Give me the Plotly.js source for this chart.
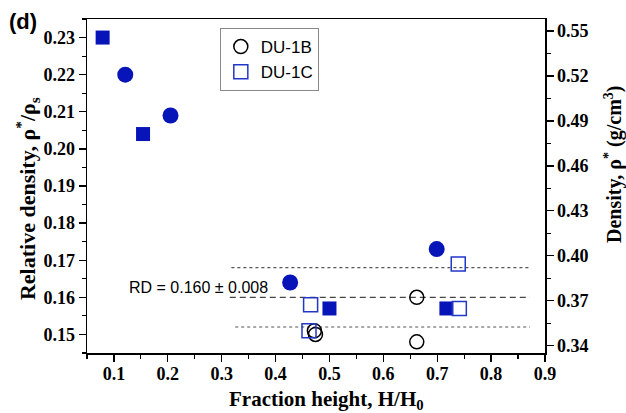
<!DOCTYPE html>
<html>
<head>
<meta charset="utf-8">
<script src="https://cdn.plot.ly/plotly-3.0.1.min.js"></script>
<style>html,body{margin:0;padding:0;background:#fff;}#chart{width:626px;height:413px;}</style>
</head>
<body>
<div id="chart"></div>
<script>
// Data
const du1bX = [0.662, 0.662, 0.472, 0.474];
const du1bY = [0.160, 0.148, 0.151, 0.150];
const du1cX = [0.739, 0.741, 0.465, 0.462];
const du1cY = [0.169, 0.157, 0.158, 0.151];
const filledCircleX = [0.121, 0.205, 0.427, 0.699];
const filledCircleY = [0.220, 0.209, 0.164, 0.173];
const filledSquareX = [0.079, 0.154, 0.500, 0.717];
const filledSquareY = [0.230, 0.204, 0.157, 0.157];
const rdMean = 0.160;
const rdUpper = 0.168;
const rdLower = 0.152;
const meanLineX = [0.315, 0.872];
const upperLineX = [0.318, 0.872];
const lowerLineX = [0.325, 0.872];
const rdLabel = 'RD = 0.160 ± 0.008';
const xTitle = 'Fraction height, H/H<sub>0</sub>';
const yTitle = 'Relative density, ρ<sup>*</sup>/ρ<sub>s</sub>';
const y2Title = 'Density, ρ<sup>*</sup> (g/cm<sup>3</sup>)';
const panelLabel = '(d)';

const blueFill = '#0714b8';
const blueLine = '#2236c8';
const serif = '"Liberation Serif", "Times New Roman", serif';
const sans = '"Liberation Sans", Arial, sans-serif';

const traces = [
  {x: upperLineX, y: [rdUpper, rdUpper], mode: 'lines', line: {color: '#555', width: 1.2, dash: 'dot'}, showlegend: false, hoverinfo: 'skip'},
  {x: meanLineX, y: [rdMean, rdMean], mode: 'lines', line: {color: '#444', width: 1.2, dash: '6px,4px'}, showlegend: false, hoverinfo: 'skip'},
  {x: lowerLineX, y: [rdLower, rdLower], mode: 'lines', line: {color: '#555', width: 1.2, dash: 'dot'}, showlegend: false, hoverinfo: 'skip'},
  {x: filledCircleX, y: filledCircleY, mode: 'markers', marker: {symbol: 'circle', size: 16, color: blueFill, line: {width: 0}}, showlegend: false},
  {x: filledSquareX, y: filledSquareY, mode: 'markers', marker: {symbol: 'square', size: 14, color: blueFill, line: {width: 0}}, showlegend: false},
  {x: du1bX, y: du1bY, mode: 'markers', name: 'DU-1B', marker: {symbol: 'circle-open', size: 14, color: '#000', line: {width: 1.5, color: '#000'}}},
  {x: du1cX, y: du1cY, mode: 'markers', name: 'DU-1C', marker: {symbol: 'square-open', size: 14, color: blueLine, line: {width: 1.5, color: blueLine}}},
  {x: [null], y: [null], yaxis: 'y2', mode: 'markers', showlegend: false, hoverinfo: 'skip'}
];

const tickFont = {family: serif, size: 18, color: '#000', weight: 'bold'};
const titleFont = {family: serif, size: 22, color: '#000', weight: 'bold'};

const layout = {
  width: 626, height: 413,
  margin: {l: 87, r: 81, t: 19, b: 60},
  paper_bgcolor: '#fff', plot_bgcolor: '#fff',
  showlegend: true,
  legend: {x: 0.29, y: 0.973, xanchor: 'left', yanchor: 'top', bordercolor: '#888', borderwidth: 1,
           font: {family: sans, size: 17, color: '#000'}, bgcolor: '#fff', tracegroupgap: 0, itemwidth: 30},
  xaxis: {
    range: [0.05, 0.9], tick0: 0.1, dtick: 0.1, tickformat: '.1f',
    showgrid: false, zeroline: false, showline: true, linecolor: '#000', linewidth: 1.5, mirror: true,
    ticks: 'outside', ticklen: 7, tickwidth: 1.3, tickcolor: '#000', ticklabelstandoff: -3,
    minor: {dtick: 0.05, tick0: 0.05, ticks: 'outside', ticklen: 4, tickwidth: 1.2, tickcolor: '#000'},
    tickfont: tickFont
  },
  yaxis: {
    range: [0.145, 0.235], tick0: 0.15, dtick: 0.01, tickformat: '.2f',
    showgrid: false, zeroline: false, showline: true, linecolor: '#000', linewidth: 1.5,
    ticks: 'outside', ticklen: 7, tickwidth: 1.3, tickcolor: '#000',
    minor: {dtick: 0.005, tick0: 0.145, ticks: 'outside', ticklen: 4, tickwidth: 1.2, tickcolor: '#000'},
    tickfont: tickFont
  },
  yaxis2: {
    overlaying: 'y', side: 'right',
    range: [0.3351, 0.558], tick0: 0.34, dtick: 0.03, tickformat: '.2f',
    showgrid: false, zeroline: false, showline: true, linecolor: '#000', linewidth: 1.5,
    ticks: 'outside', ticklen: 7, tickwidth: 1.3, tickcolor: '#000',
    minor: {dtick: 0.015, tick0: 0.34, ticks: 'outside', ticklen: 4, tickwidth: 1.2, tickcolor: '#000'},
    tickfont: tickFont
  },
  annotations: [
    {x: 0.256, y: 0.1626, xref: 'x', yref: 'y', xanchor: 'center', yanchor: 'middle', text: rdLabel, showarrow: false,
     font: {family: sans, size: 16, color: '#000'}},
    {x: -0.1745, y: 1.035, xref: 'paper', yref: 'paper', xanchor: 'left', yanchor: 'top', text: panelLabel, showarrow: false,
     font: {family: sans, size: 22, color: '#000', weight: 'bold'}},
    {x: 0.522, y: -0.142, xref: 'paper', yref: 'paper', xanchor: 'center', yanchor: 'middle', text: xTitle, showarrow: false,
     font: {family: serif, size: 21, color: '#000', weight: 'bold'}},
    {x: -0.131, y: 0.461, xref: 'paper', yref: 'paper', xanchor: 'center', yanchor: 'middle', text: yTitle, textangle: -90, showarrow: false, font: titleFont},
    {x: 1.1507, y: 0.563, xref: 'paper', yref: 'paper', xanchor: 'center', yanchor: 'middle', text: y2Title, textangle: -90, showarrow: false,
     font: {family: serif, size: 20, color: '#000', weight: 'bold'}}
  ]
};

Plotly.newPlot('chart', traces, layout, {displayModeBar: false, staticPlot: true});
</script>
</body>
</html>
